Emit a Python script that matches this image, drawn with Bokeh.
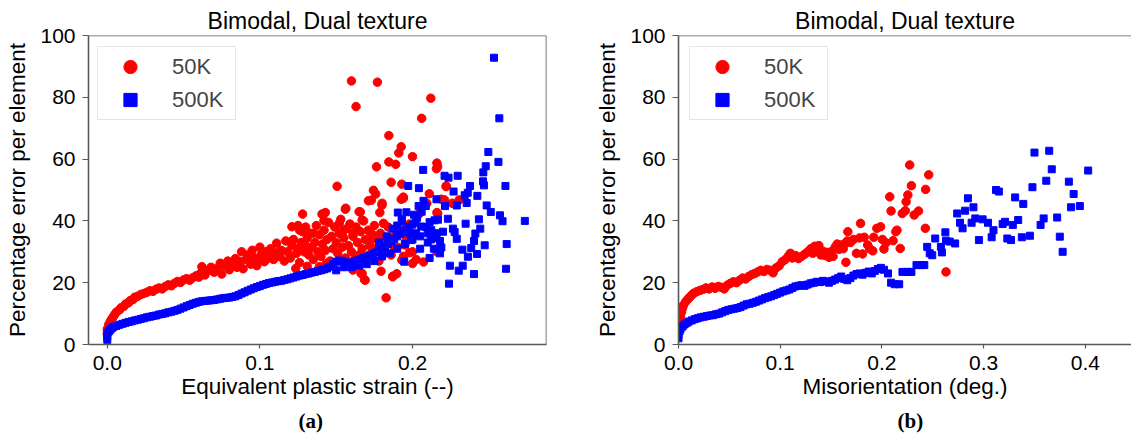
from bokeh.plotting import figure
from bokeh.layouts import row
from bokeh.models import Range1d, FixedTicker, NumeralTickFormatter, Legend, LegendItem, Span, Title
from bokeh.embed import file_html
from bokeh.resources import INLINE

# ---------------- data: panel (a) equivalent plastic strain ----------------
a_red_x = [
    0.000, 0.000, 0.001, 0.002, 0.003, 0.004, 0.005, 0.006, 0.008, 0.009, 0.011, 0.012, 0.014, 0.015,
    0.017, 0.018, 0.020, 0.022, 0.024, 0.026, 0.028, 0.030, 0.032, 0.034, 0.036, 0.038, 0.040, 0.042,
    0.044, 0.046, 0.048, 0.050, 0.052, 0.054, 0.056, 0.058, 0.060, 0.061,
    0.062, 0.064, 0.066, 0.068, 0.070, 0.072, 0.074, 0.075, 0.077, 0.079, 0.080, 0.082, 0.084, 0.085,
    0.087, 0.088, 0.089, 0.091, 0.092, 0.094, 0.095, 0.096, 0.098, 0.099, 0.100, 0.101, 0.103, 0.104,
    0.106, 0.107, 0.109, 0.110, 0.111, 0.113, 0.114, 0.116, 0.117, 0.118, 0.120, 0.121, 0.122, 0.124,
    0.125, 0.126, 0.127, 0.128, 0.129, 0.130,
    0.131, 0.132, 0.133, 0.134, 0.135, 0.136, 0.137, 0.138, 0.139, 0.140, 0.141, 0.142, 0.143, 0.144,
    0.145, 0.146, 0.147, 0.148, 0.149, 0.150, 0.151, 0.152, 0.153, 0.154, 0.155, 0.156, 0.157, 0.158,
    0.159, 0.160, 0.161, 0.162, 0.163, 0.164, 0.165, 0.166, 0.167, 0.168, 0.169, 0.170, 0.171, 0.172,
    0.173, 0.174, 0.175, 0.176, 0.177, 0.178, 0.179, 0.180, 0.182, 0.184, 0.186, 0.188, 0.190, 0.192,
    0.194, 0.196, 0.198, 0.200,
    0.160, 0.177, 0.163, 0.212, 0.206, 0.1845, 0.1926, 0.191, 0.200, 0.1845, 0.189, 0.1764, 0.216, 0.2157,
    0.186, 0.193, 0.1506, 0.1744, 0.1759, 0.173, 0.1711, 0.1801, 0.1563, 0.1926, 0.194, 0.211, 0.2189, 0.2221,
    0.216, 0.1658, 0.1786, 0.1429, 0.1407, 0.128, 0.1794, 0.1871, 0.1897, 0.1827, 0.1685, 0.1663, 0.198, 0.2024,
    0.2072, 0.216, 0.121, 0.126, 0.142, 0.156, 0.152, 0.155, 0.161, 0.165, 0.167, 0.172, 0.180, 0.181,
    0.173, 0.1235, 0.139, 0.1435, 0.161, 0.167, 0.169, 0.187, 0.193, 0.200, 0.188, 0.195, 0.200, 0.2047,
    0.2094, 0.2165, 0.221, 0.226, 0.2306, 0.222, 0.2165, 0.194, 0.131, 0.140, 0.125, 0.130, 0.135,
]
a_red_y = [
    3.5, 5.0, 6.5, 7.5, 8.3, 9.0, 9.8, 10.5, 11.2, 11.9, 12.4, 13.1, 13.5, 14.2,
    14.6, 15.3, 15.6, 16.2, 16.5, 16.9, 17.4, 17.2, 17.9, 18.3, 18.0, 18.8, 19.3, 19.0,
    19.8, 20.4, 20.1, 20.9, 21.3, 20.8, 21.6, 22.2, 21.8, 23.0,
    25.2, 22.5, 24.0, 25.0, 23.4, 24.6, 26.3, 22.8, 25.5, 27.0, 24.2, 26.0, 27.8, 25.0,
    26.8, 30.0, 24.5, 27.5, 29.0, 26.0, 30.5, 28.2, 25.5, 27.0, 31.5, 29.2, 26.8, 30.0,
    28.0, 31.0, 27.5, 29.8, 32.8, 28.5, 30.5, 27.0, 33.5, 30.0, 28.0, 32.0, 34.0, 29.5,
    31.0, 26.5, 33.0, 36.5, 30.0, 32.0,
    34.5, 29.0, 36.0, 31.5, 27.5, 33.0, 38.5, 30.0, 35.5, 28.5, 32.5, 37.0, 30.5, 34.0,
    39.5, 27.0, 35.0, 31.0, 38.0, 33.0, 29.5, 36.0, 40.5, 31.5, 34.5, 28.0, 37.5, 32.0,
    39.0, 30.0, 35.0, 27.5, 38.0, 33.0, 29.0, 36.5, 31.0, 40.0, 34.0, 28.5, 37.0, 32.0,
    29.5, 35.5, 38.5, 31.0, 34.0, 27.0, 36.0, 30.5, 33.5, 38.0, 29.0, 35.0, 31.5, 37.5,
    28.5, 34.0, 39.0, 30.0,
    85.3, 84.9, 77.0, 79.7, 73.2, 67.6, 64.0, 62.0, 60.8, 59.1, 58.3, 57.5, 58.7, 56.9,
    52.5, 51.9, 51.2, 49.9, 48.7, 46.7, 46.5, 45.7, 44.1, 47.0, 47.7, 48.8, 47.0, 51.3,
    42.7, 42.9, 42.7, 42.7, 42.2, 42.2, 23.7, 22.1, 22.9, 15.1, 21.0, 23.0, 29.7, 27.5,
    26.7, 30.0, 38.1, 37.0, 40.1, 43.8, 39.2, 37.0, 36.0, 43.0, 40.3, 36.5, 45.1, 39.2,
    33.8, 24.6, 25.2, 26.2, 24.1, 23.0, 20.8, 21.9, 27.3, 26.2, 31.6, 32.2, 34.9, 42.4,
    45.7, 42.4, 46.8, 45.7, 46.8, 51.1, 57.6, 47.3, 25.3, 24.8, 38.5, 38.0, 36.0,
]

a_blue_x = [
    0.000, 0.000, 0.000, 0.001, 0.002, 0.003, 0.004, 0.006, 0.008, 0.010, 0.012, 0.014, 0.016, 0.018,
    0.020, 0.022, 0.024, 0.026, 0.028, 0.030, 0.032, 0.034, 0.036, 0.038, 0.040, 0.042, 0.044, 0.046,
    0.048, 0.050, 0.052, 0.054, 0.056, 0.058, 0.060, 0.062, 0.064, 0.066, 0.068, 0.070, 0.072, 0.074,
    0.076, 0.078, 0.080, 0.082, 0.084, 0.086, 0.088, 0.090, 0.092, 0.094, 0.096, 0.098, 0.100, 0.102,
    0.104, 0.106, 0.108, 0.110, 0.112, 0.114, 0.116, 0.118, 0.120, 0.122, 0.124, 0.126, 0.128, 0.130,
    0.132, 0.134, 0.136, 0.138, 0.140, 0.142, 0.144, 0.146, 0.148, 0.150, 0.152, 0.154, 0.156, 0.158,
    0.160, 0.162, 0.164, 0.166, 0.168, 0.170, 0.172, 0.174, 0.176, 0.178, 0.180, 0.182, 0.184, 0.186,
    0.188, 0.190, 0.192, 0.194, 0.196, 0.198, 0.200, 0.202,
    0.150, 0.155, 0.160, 0.165, 0.170, 0.175, 0.180, 0.185, 0.190, 0.195, 0.200, 0.205, 0.210, 0.178,
    0.183, 0.187, 0.190, 0.193, 0.196, 0.198, 0.203, 0.206, 0.209, 0.212, 0.214,
    0.2534, 0.2569, 0.2497, 0.2563, 0.248, 0.207, 0.221, 0.2236, 0.2296, 0.1972, 0.2042, 0.2269, 0.2377, 0.2462,
    0.2468, 0.2464, 0.2609, 0.2425, 0.2342, 0.2362, 0.2486, 0.2513, 0.2573, 0.259, 0.2736, 0.2348, 0.2435, 0.2444,
    0.2412, 0.2403, 0.229, 0.2473, 0.2617, 0.2327, 0.2423, 0.2385, 0.2363, 0.2245, 0.2329, 0.2303, 0.2403, 0.2613,
    0.2239, 0.2112, 0.1946, 0.2189, 0.218, 0.2158, 0.215, 0.2123, 0.2112, 0.2145, 0.2167, 0.2232, 0.2265, 0.2276,
    0.2213, 0.229, 0.2355, 0.2087, 0.2072, 0.204, 0.2157, 0.2057, 0.2024, 0.1991, 0.1904, 0.193, 0.201, 0.210,
    0.205, 0.220, 0.218,
]
a_blue_y = [
    1.5, 2.5, 3.5, 4.2, 4.8, 5.3, 5.7, 6.0, 6.4, 6.7, 7.0, 7.3, 7.5, 7.8,
    8.0, 8.3, 8.5, 8.8, 9.0, 9.2, 9.4, 9.7, 9.9, 10.1, 10.4, 10.6, 10.9, 11.2,
    11.6, 12.0, 12.4, 12.8, 13.2, 13.5, 13.8, 14.0, 14.1, 14.2, 14.3, 14.4, 14.6, 14.8,
    15.0, 15.1, 15.2, 15.4, 15.6, 16.0, 16.5, 16.9, 17.4, 17.8, 18.2, 18.6, 18.9, 19.3,
    19.6, 19.9, 20.1, 20.3, 20.5, 20.6, 20.9, 21.1, 21.4, 21.7, 22.0, 22.3, 22.5, 22.8,
    23.0, 23.3, 23.5, 23.8, 24.0, 24.3, 24.6, 25.2, 26.0, 26.8, 27.2, 27.0, 26.6, 26.2,
    26.4, 26.8, 27.2, 27.6, 28.0, 28.4, 28.8, 29.3, 29.8, 30.4, 31.0, 31.8, 32.5, 33.3,
    34.2, 35.0, 35.8, 36.5, 37.3, 38.0, 38.8, 39.5,
    24.0, 25.0, 25.0, 25.5, 26.0, 27.0, 28.5, 29.5, 31.0, 32.5, 34.0, 35.0, 36.0, 33.0,
    35.0, 37.5, 38.5, 40.0, 42.8, 36.0, 41.0, 43.0, 38.0, 34.0, 31.0,
    92.8, 73.2, 62.3, 59.1, 57.7, 56.5, 54.6, 54.0, 54.6, 51.3, 50.6, 49.5, 51.3, 52.8,
    51.5, 55.7, 51.3, 48.1, 48.3, 49.1, 45.0, 42.9, 41.8, 39.9, 40.0, 39.1, 40.5, 37.5,
    35.9, 33.5, 34.2, 32.1, 32.5, 30.7, 29.3, 31.2, 28.4, 25.5, 25.5, 23.9, 22.8, 24.5,
    19.7, 28.0, 26.8, 31.4, 33.5, 34.4, 36.0, 37.0, 39.6, 40.2, 40.4, 40.7, 37.5, 36.4,
    44.8, 45.0, 45.8, 44.8, 46.5, 44.8, 47.0, 38.2, 36.0, 33.8, 42.7, 40.5, 42.0, 33.0,
    31.0, 36.5, 29.5,
]

# ---------------- data: panel (b) misorientation ----------------
b_red_x = [
    0.000, 0.001, 0.002, 0.003, 0.004, 0.005, 0.007, 0.009, 0.011, 0.013, 0.015, 0.018, 0.021, 0.024,
    0.027, 0.030, 0.033, 0.036, 0.039, 0.042, 0.045, 0.048, 0.051, 0.054, 0.057, 0.060, 0.063, 0.066,
    0.069, 0.072, 0.075, 0.078, 0.081, 0.084, 0.087, 0.090, 0.093, 0.096, 0.099, 0.102, 0.105, 0.108,
    0.110, 0.112, 0.115, 0.118, 0.121, 0.124, 0.127, 0.130, 0.132, 0.134, 0.136, 0.138, 0.140, 0.142,
    0.144, 0.146, 0.148, 0.150, 0.152, 0.154, 0.156, 0.158, 0.160, 0.162, 0.164, 0.1646, 0.166, 0.1665,
    0.169, 0.172, 0.175, 0.178, 0.179, 0.181, 0.1826, 0.186, 0.188, 0.191, 0.192, 0.195, 0.1987, 0.2005,
    0.202, 0.204, 0.2077, 0.209, 0.211, 0.2148, 0.2137, 0.218, 0.220, 0.223, 0.2238, 0.2255, 0.2273, 0.229,
    0.2317, 0.236, 0.243, 0.2427, 0.246, 0.263,
]
b_red_y = [
    6.0, 7.5, 9.0, 10.5, 11.8, 12.8, 13.8, 14.6, 15.3, 16.0, 16.6, 17.1, 17.5, 17.8,
    18.3, 18.0, 18.6, 18.2, 18.8, 18.5, 18.0, 19.2, 19.8, 20.3, 20.0, 20.8, 21.5, 21.2,
    22.0, 22.6, 23.0, 23.5, 24.0, 23.6, 24.3, 24.0, 23.2, 24.8, 25.5, 26.8, 27.5, 28.6,
    29.5, 28.0, 28.8, 27.8, 28.5, 29.2, 30.0, 31.0, 29.5, 31.8, 30.5, 32.0, 29.0, 30.2,
    28.8, 29.8, 28.2, 30.0, 28.5, 31.5, 32.5, 30.8, 32.2, 31.0, 32.8, 26.6, 33.5, 36.5,
    33.0, 34.0, 29.5, 34.5, 39.2, 29.3, 34.7, 32.2, 31.0, 30.3, 34.7, 37.6, 38.1, 34.0,
    30.9, 32.9, 47.8, 43.2, 33.6, 37.0, 36.5, 31.1, 42.4, 43.3, 46.2, 48.4, 58.1, 51.4,
    41.9, 43.2, 50.2, 37.6, 54.9, 23.5,
]

b_blue_x = [
    0.000, 0.000, 0.001, 0.002, 0.004, 0.006, 0.008, 0.010, 0.013, 0.016, 0.019, 0.022, 0.025, 0.028,
    0.031, 0.034, 0.037, 0.040, 0.043, 0.046, 0.049, 0.052, 0.055, 0.058, 0.061, 0.064, 0.067, 0.070,
    0.073, 0.076, 0.079, 0.082, 0.085, 0.088, 0.091, 0.094, 0.097, 0.100, 0.103, 0.106, 0.109, 0.112,
    0.115, 0.118, 0.121, 0.124, 0.127, 0.130, 0.133, 0.136, 0.139, 0.142, 0.145, 0.148, 0.151, 0.154,
    0.157, 0.160, 0.163, 0.166, 0.169, 0.172, 0.175, 0.178, 0.181, 0.184, 0.187, 0.190, 0.193, 0.196,
    0.199, 0.202, 0.206, 0.209, 0.2126, 0.217, 0.2202, 0.2256, 0.229, 0.234, 0.238, 0.2417, 0.2445, 0.247,
    0.2495, 0.2524, 0.258, 0.259, 0.2624, 0.263, 0.2667, 0.272, 0.274, 0.2768, 0.2793, 0.2818, 0.2846, 0.2882,
    0.290, 0.2954, 0.2918, 0.299, 0.3043, 0.3079, 0.3097, 0.3122, 0.315, 0.3187, 0.321, 0.3233, 0.3269, 0.331,
    0.334, 0.3287, 0.3376, 0.339, 0.3455, 0.348, 0.350, 0.356, 0.359, 0.3616, 0.3645, 0.367, 0.3723, 0.3749,
    0.3777, 0.3838, 0.386, 0.3885, 0.3946, 0.4028,
]
b_blue_y = [
    2.0, 3.2, 4.2, 5.0, 5.8, 6.5, 7.0, 7.4, 7.8, 8.2, 8.5, 8.8, 9.0, 9.2,
    9.4, 9.5, 9.8, 10.0, 10.4, 10.8, 11.2, 11.4, 11.6, 11.8, 12.1, 12.6, 13.0, 13.2,
    13.5, 13.8, 14.2, 14.6, 15.0, 15.3, 15.6, 16.0, 16.4, 16.8, 17.2, 17.5, 17.8, 18.3,
    18.8, 19.0, 19.2, 19.0, 19.4, 19.8, 20.0, 20.3, 20.2, 20.6, 20.4, 20.0, 20.6, 21.0,
    21.5, 22.0, 21.2, 20.8, 21.5, 22.3, 22.8, 23.0, 22.6, 23.2, 23.6, 23.0, 23.8, 24.4,
    24.8, 24.2, 23.0, 20.0, 19.5, 19.5, 23.5, 23.5, 23.5, 25.7, 25.7, 25.7, 31.6, 29.5,
    28.9, 34.3, 31.6, 29.8, 36.3, 33.6, 33.3, 32.7, 42.4, 39.4, 37.6, 43.3, 47.3, 39.4,
    44.4, 33.8, 40.8, 40.5, 39.4, 34.7, 37.0, 50.0, 49.5, 39.0, 39.7, 34.3, 33.8, 47.6,
    40.3, 38.7, 34.7, 45.5, 35.2, 50.9, 62.1, 38.7, 40.8, 53.0, 62.7, 56.7, 41.1, 34.9,
    30.0, 52.7, 44.4, 48.7, 44.8, 56.3,
]

y_ticks = [0, 20, 40, 60, 80, 100]
a_x_ticks = [0.0, 0.1, 0.2]
b_x_ticks = [0.0, 0.1, 0.2, 0.3, 0.4]
series_labels = ["50K", "500K"]
panel_title = "Bimodal, Dual texture"
y_label = "Percentage error per element"

SANS = "Liberation Sans"
SERIF = "Liberation Serif"
SPINE = "#595959"
H = 439
TOP = 35
BOTTOM = 95
FRAME_H = H - TOP - BOTTOM


def make_panel(width, x_start, x_end, x_ticks, bl, br, xlabel, caption, cap_off,
               rx, ry, bx, by, legend_x, right_spine):
    p = figure(width=width, height=H,
               x_range=Range1d(x_start, x_end), y_range=Range1d(0, 100),
               output_backend="svg", toolbar_location=None,
               min_border_left=bl, min_border_right=br, min_border_top=TOP, min_border_bottom=BOTTOM)
    p.title.text = panel_title
    p.title.text_font = SANS
    p.title.text_font_size = "23px"
    p.title.text_font_style = "normal"
    p.title.text_color = "black"
    p.title.align = "center"
    p.title.standoff = 4
    p.outline_line_color = None
    p.grid.visible = False

    for ax in (p.xaxis, p.yaxis):
        ax.axis_line_color = SPINE
        ax.axis_line_width = 1.6
        ax.major_tick_line_color = SPINE
        ax.major_tick_line_width = 1.2
        ax.minor_tick_line_color = None
        ax.major_tick_in = 0
        ax.major_label_text_font = SANS
        ax.major_label_text_font_size = "21px"
        ax.major_label_text_color = "black"
        ax.axis_label_text_font = SANS
        ax.axis_label_text_font_size = "22.5px"
        ax.axis_label_text_font_style = "normal"
        ax.axis_label_text_color = "black"

    p.xaxis.ticker = FixedTicker(ticks=x_ticks)
    p.xaxis.formatter = NumeralTickFormatter(format="0.0")
    p.xaxis.major_tick_out = 4
    p.xaxis.major_label_standoff = 7
    p.xaxis.axis_label = xlabel
    p.xaxis.axis_label_standoff = 1

    p.yaxis.ticker = FixedTicker(ticks=y_ticks)
    p.yaxis.major_tick_out = 6
    p.yaxis.major_label_standoff = 7
    p.yaxis.axis_label = y_label
    p.yaxis.axis_label_standoff = 7

    p.add_layout(Span(location=100, dimension="width", line_color=SPINE, line_width=1.6))
    if right_spine:
        p.add_layout(Span(location=x_end, dimension="height", line_color=SPINE, line_width=1.6))

    r1 = p.scatter(rx, ry, marker="circle", size=8.5, fill_color="#ff0000", line_color="#ff0000")
    r2 = p.scatter(bx, by, marker="square", size=7, fill_color="#0000ff", line_color="#0000ff")

    legend = Legend(items=[LegendItem(label=series_labels[0], renderers=[r1]),
                           LegendItem(label=series_labels[1], renderers=[r2])],
                    location=(legend_x, FRAME_H - 13 - 72), padding=3, spacing=0, margin=0,
                    glyph_width=58, glyph_height=33, label_height=33, label_width=60,
                    label_standoff=13, label_text_font=SANS, label_text_font_size="22px",
                    border_line_color="#cccccc", border_line_width=1,
                    background_fill_color="white", background_fill_alpha=0.8)
    p.add_layout(legend)

    cap = Title(text=caption, align="left", offset=cap_off, text_font=SERIF, text_font_style="bold",
                text_font_size="21px", text_color="black", standoff=10)
    p.add_layout(cap, "below")
    return p


pa = make_panel(560, -0.0123, 0.2878, a_x_ticks, 88, 14, "Equivalent plastic strain (--)", "(a)", 210,
                a_red_x, a_red_y, a_blue_x, a_blue_y, 9, True)
pb = make_panel(571, 0.0, 0.4454, b_x_ticks, 118, 0, "Misorientation (deg.)", "(b)", 219,
                b_red_x, b_red_y, b_blue_x, b_blue_y, 11, False)

layout = row(pa, pb)
open("out.html", "w").write(file_html(layout, INLINE))
